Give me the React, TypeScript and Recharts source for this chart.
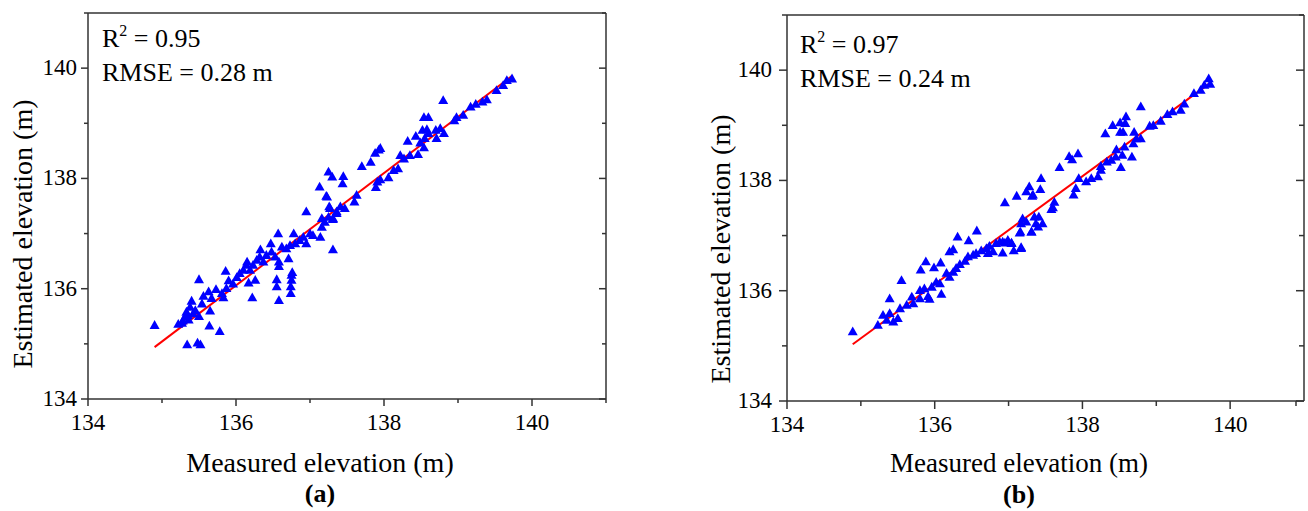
import { ScatterChart, Scatter, XAxis, YAxis, ReferenceLine } from 'recharts'

const FONT = '"Liberation Serif", "Times New Roman", Times, serif'
const INK = '#000'
const FRAME = '#333'
const BLUE = '#0000ff'
const RED = '#ff0000'

const axisDomain: [number, number] = [134, 141]
const axisTicks = [134, 135, 136, 137, 138, 139, 140, 141]

// (a) measured vs estimated elevation
const pointsA: [number, number][] = [
  [134.9, 135.34], [135.34, 134.99], [135.48, 135.02], [135.52, 134.99], [135.64, 135.33], [135.78, 135.23],
  [135.5, 136.17], [135.86, 136.32], [136.22, 135.84], [136.58, 135.79], [136.55, 136.04], [136.55, 136.17],
  [136.74, 135.92], [136.74, 136.04], [136.75, 136.16], [136.75, 136.25], [136.76, 136.3], [136.58, 136.41],
  [136.58, 136.49], [136.71, 136.55], [136.95, 137.4], [137.22, 137.68], [137.31, 136.71], [136.57, 137.0],
  [136.78, 137.0], [136.47, 136.82], [136.33, 136.71], [136.15, 136.49], [136.26, 136.16], [136.17, 136.11],
  [135.22, 135.36], [135.27, 135.38], [135.28, 135.42], [135.31, 135.49], [135.33, 135.58], [135.35, 135.52],
  [135.38, 135.67], [135.4, 135.78], [135.36, 135.44], [135.42, 135.55], [135.45, 135.61], [135.5, 135.5],
  [135.54, 135.73], [135.56, 135.87], [135.63, 135.95], [135.65, 135.6], [135.67, 135.83], [135.73, 135.99],
  [135.81, 135.92], [135.83, 135.84], [135.87, 136.01], [135.9, 136.15], [135.96, 136.09], [136.01, 136.21],
  [136.05, 136.28], [136.1, 136.34], [136.14, 136.43], [136.23, 136.43], [136.19, 136.34], [136.28, 136.52],
  [136.32, 136.58], [136.37, 136.49], [136.41, 136.61], [136.48, 136.67], [136.53, 136.58], [136.62, 136.76],
  [136.68, 136.73], [136.73, 136.79], [136.8, 136.82], [136.86, 136.88], [136.91, 136.94], [136.95, 136.82],
  [137.0, 137.0], [137.04, 136.97], [137.14, 136.94], [137.16, 137.12], [137.2, 137.21], [137.25, 137.3],
  [137.31, 137.28], [137.36, 137.37], [137.27, 137.46],
  [139.73, 139.81], [139.66, 139.78], [139.61, 139.69], [139.52, 139.6], [139.39, 139.43], [139.33, 139.39],
  [139.24, 139.35], [139.17, 139.3], [139.07, 139.15], [138.98, 139.11], [138.95, 139.05], [138.8, 139.42],
  [138.81, 138.82], [138.76, 138.91], [138.7, 138.88], [138.71, 138.73], [138.6, 139.11], [138.54, 139.11],
  [138.58, 138.89], [138.52, 138.88], [138.6, 138.82], [138.55, 138.73], [138.54, 138.56], [138.49, 138.65],
  [138.43, 138.77], [138.46, 138.44], [138.32, 138.68], [138.35, 138.42], [138.27, 138.36], [138.22, 138.42],
  [138.19, 138.18], [138.13, 138.15], [138.06, 138.02], [137.95, 138.55], [137.93, 138.52], [137.88, 138.46],
  [137.82, 138.3], [137.7, 138.22], [137.95, 137.98], [137.91, 137.94], [137.89, 137.84], [137.63, 137.7],
  [137.6, 137.58], [137.45, 138.04], [137.44, 137.91], [137.25, 138.12], [137.3, 138.03], [137.13, 137.85],
  [137.23, 137.67], [137.26, 137.49], [137.41, 137.49], [137.47, 137.46], [137.16, 137.28], [137.31, 137.26],
  [137.36, 137.4],
]
const fitA: [number, number][] = [[134.9, 134.94], [139.73, 139.86]]
const statsA = { r2: '0.95', rmse: '0.28', tag: '(a)' }

// (b) right panel
const pointsB: [number, number][] = [
  [134.89, 135.26], [135.23, 135.38], [135.3, 135.56], [135.39, 135.59], [135.39, 135.86], [135.35, 135.47],
  [135.44, 135.44], [135.5, 135.5], [135.55, 136.19], [135.53, 135.68], [135.62, 135.74], [135.69, 135.89],
  [135.71, 135.77], [135.8, 135.86], [135.8, 136.01], [135.86, 136.04], [135.91, 135.9], [135.93, 135.85],
  [135.96, 136.07], [136.02, 136.16], [136.09, 135.94], [136.07, 136.13], [135.81, 136.38], [135.88, 136.53],
  [135.99, 136.42], [136.08, 136.51], [136.16, 136.32], [136.2, 136.25], [136.25, 136.34], [136.29, 136.41],
  [136.34, 136.48], [136.2, 136.71], [136.25, 136.75], [136.31, 136.98], [136.46, 136.91], [136.57, 137.09],
  [136.41, 136.54], [136.45, 136.62], [136.52, 136.65], [136.56, 136.68], [136.63, 136.73], [136.7, 136.77],
  [136.74, 136.81], [136.72, 136.68], [136.79, 136.71], [136.83, 136.86], [136.88, 136.89], [136.95, 136.87],
  [136.99, 136.92], [137.04, 136.86], [136.92, 136.69], [137.07, 136.73], [137.17, 136.77], [136.95, 137.6],
  [137.11, 137.72], [137.24, 137.8], [137.33, 137.74], [137.17, 137.22], [137.24, 137.25], [137.31, 137.07],
  [137.15, 137.05], [137.19, 137.31], [137.35, 137.34], [137.37, 137.22],
  [139.71, 139.85], [139.65, 139.73], [139.73, 139.75], [139.6, 139.64], [139.51, 139.58], [139.38, 139.39],
  [139.33, 139.28], [139.22, 139.25], [139.15, 139.2], [139.06, 139.08], [138.96, 139.0], [138.91, 138.99],
  [138.79, 139.34], [138.79, 138.76], [138.7, 138.88], [138.73, 138.76], [138.69, 138.67], [138.67, 138.43],
  [138.59, 139.16], [138.51, 139.05], [138.58, 139.04], [138.41, 139.0], [138.31, 138.85], [138.51, 138.88],
  [138.55, 138.88], [138.57, 138.61], [138.46, 138.56], [138.54, 138.46], [138.45, 138.43], [138.52, 138.24],
  [138.39, 138.37], [138.33, 138.34], [138.25, 138.26], [138.25, 138.19], [138.21, 138.07], [138.12, 138.04],
  [138.05, 137.98], [137.95, 138.04], [137.91, 137.86], [137.88, 137.74], [137.69, 138.24], [137.82, 138.44],
  [137.86, 138.38], [137.94, 138.49], [137.44, 138.04], [137.43, 137.84], [137.28, 137.89], [137.32, 137.72],
  [137.62, 137.61], [137.6, 137.51], [137.58, 137.48], [137.41, 137.34], [137.46, 137.22], [137.4, 137.16],
  [137.16, 137.07], [137.31, 137.07], [137.04, 136.87], [136.92, 136.89], [137.17, 136.79],
]
const fitB: [number, number][] = [[134.89, 135.03], [139.73, 139.77]]
const statsB = { r2: '0.97', rmse: '0.24', tag: '(b)' }

// recharts places tick labels tickSize + tickMargin away from the axis line
const TICK_SIZE = 7
const TICK_MARGIN = 4
const OFF = TICK_SIZE + TICK_MARGIN

interface Look {
  left: number
  margin: { top: number; right: number; bottom: number; left: number }
  major: number
  minor: number
  yGap: number
}

type Side = 'left' | 'right' | 'top' | 'bottom'

function makeTick(side: Side, look: Look) {
  // eslint-disable-next-line @typescript-eslint/no-explicit-any
  return function Tick(props: any) {
    const { x, y, payload } = props
    const v = Number(payload.value)
    const major = v % 2 === 0
    const len = major ? look.major : look.minor
    const text = { fill: INK, fontSize: 23, fontFamily: FONT }
    if (side === 'left' || side === 'right') {
      const ax = x + OFF
      return (
        <g>
          <line x1={ax - len} y1={y} x2={ax} y2={y} stroke={FRAME} strokeWidth={1.5} />
          {side === 'left' && major && (
            <text x={ax - look.yGap} y={y + 7} textAnchor="end" {...text}>{v}</text>
          )}
        </g>
      )
    }
    const ay = y - OFF
    return (
      <g>
        <line x1={x} y1={ay} x2={x} y2={ay + len} stroke={FRAME} strokeWidth={1.5} />
        {side === 'bottom' && major && (
          <text x={x} y={ay + 31} textAnchor="middle" {...text}>{v}</text>
        )}
      </g>
    )
  }
}

// eslint-disable-next-line @typescript-eslint/no-explicit-any
function Triangle(props: any) {
  const { cx, cy } = props
  if (cx == null || cy == null) return null
  return (
    <polygon
      points={`${cx},${cy - 5} ${cx - 5},${cy + 3.8} ${cx + 5},${cy + 3.8}`}
      fill={BLUE}
    />
  )
}

function Panel({ points, fit, look }: { points: [number, number][]; fit: [number, number][]; look: Look }) {
  const data = points.map(([x, y]) => ({ x, y }))
  const frame = { stroke: FRAME, strokeWidth: 1.5 }
  return (
    <div style={{ position: 'absolute', left: look.left, top: 0 }}>
      <ScatterChart width={654} height={511} margin={look.margin}>
        <XAxis
          type="number"
          dataKey="x"
          domain={axisDomain}
          allowDataOverflow
          ticks={axisTicks}
          height={30}
          tickSize={TICK_SIZE}
          tickMargin={TICK_MARGIN}
          tickLine={false}
          axisLine={frame}
          tick={makeTick('bottom', look)}
        />
        <XAxis
          xAxisId="top"
          orientation="top"
          mirror
          type="number"
          domain={axisDomain}
          allowDataOverflow
          ticks={axisTicks}
          tickSize={TICK_SIZE}
          tickMargin={TICK_MARGIN}
          tickLine={false}
          axisLine={frame}
          tick={makeTick('top', look)}
        />
        <YAxis
          type="number"
          dataKey="y"
          domain={axisDomain}
          allowDataOverflow
          ticks={axisTicks}
          width={60}
          tickSize={TICK_SIZE}
          tickMargin={TICK_MARGIN}
          tickLine={false}
          axisLine={frame}
          tick={makeTick('left', look)}
        />
        <YAxis
          yAxisId="right"
          orientation="right"
          mirror
          type="number"
          domain={axisDomain}
          allowDataOverflow
          ticks={axisTicks}
          width={60}
          tickSize={TICK_SIZE}
          tickMargin={TICK_MARGIN}
          tickLine={false}
          axisLine={frame}
          tick={makeTick('right', look)}
        />
        <Scatter data={data} shape={<Triangle />} isAnimationActive={false} />
        <ReferenceLine
          segment={[{ x: fit[0][0], y: fit[0][1] }, { x: fit[1][0], y: fit[1][1] }]}
          stroke={RED}
          strokeWidth={2}
        />
      </ScatterChart>
    </div>
  )
}

const lookA: Look = { left: 0, margin: { top: 13, right: 48, bottom: 82, left: 28 }, major: 7, minor: 4, yGap: 11 }
const lookB: Look = { left: 654, margin: { top: 15, right: 4, bottom: 80, left: 73 }, major: 8, minor: 5, yGap: 15 }

function Texts() {
  const base = { fill: INK, fontFamily: FONT }
  const stat = (x: number, y: number, s: { r2: string; rmse: string }) => (
    <>
      <text x={x} y={y} fontSize={26} {...base}>
        R<tspan fontSize={16} dy={-11}>2</tspan>
        <tspan dy={11}>{` = ${s.r2}`}</tspan>
      </text>
      <text x={x} y={y + 34} fontSize={26} {...base}>{`RMSE = ${s.rmse} m`}</text>
    </>
  )
  return (
    <svg width={1308} height={511} style={{ position: 'absolute', left: 0, top: 0, pointerEvents: 'none' }}>
      {stat(102, 47, statsA)}
      {stat(800, 53, statsB)}
      <text transform="translate(32,234) rotate(-90)" textAnchor="middle" fontSize={28} {...base}>
        Estimated elevation (m)
      </text>
      <text transform="translate(730,249) rotate(-90)" textAnchor="middle" fontSize={28} {...base}>
        Estimated elevation (m)
      </text>
      <text x={320} y={472} textAnchor="middle" fontSize={28} {...base}>Measured elevation (m)</text>
      <text x={1019} y={472} textAnchor="middle" fontSize={27} {...base}>Measured elevation (m)</text>
      <text x={320} y={502} textAnchor="middle" fontSize={26} fontWeight="bold" {...base}>{statsA.tag}</text>
      <text x={1019} y={503} textAnchor="middle" fontSize={26} fontWeight="bold" {...base}>{statsB.tag}</text>
    </svg>
  )
}

export default function App() {
  return (
    <div style={{ position: 'absolute', left: 0, top: 0, width: 1308, height: 511, background: '#fff' }}>
      <Panel points={pointsA} fit={fitA} look={lookA} />
      <Panel points={pointsB} fit={fitB} look={lookB} />
      <Texts />
    </div>
  )
}
